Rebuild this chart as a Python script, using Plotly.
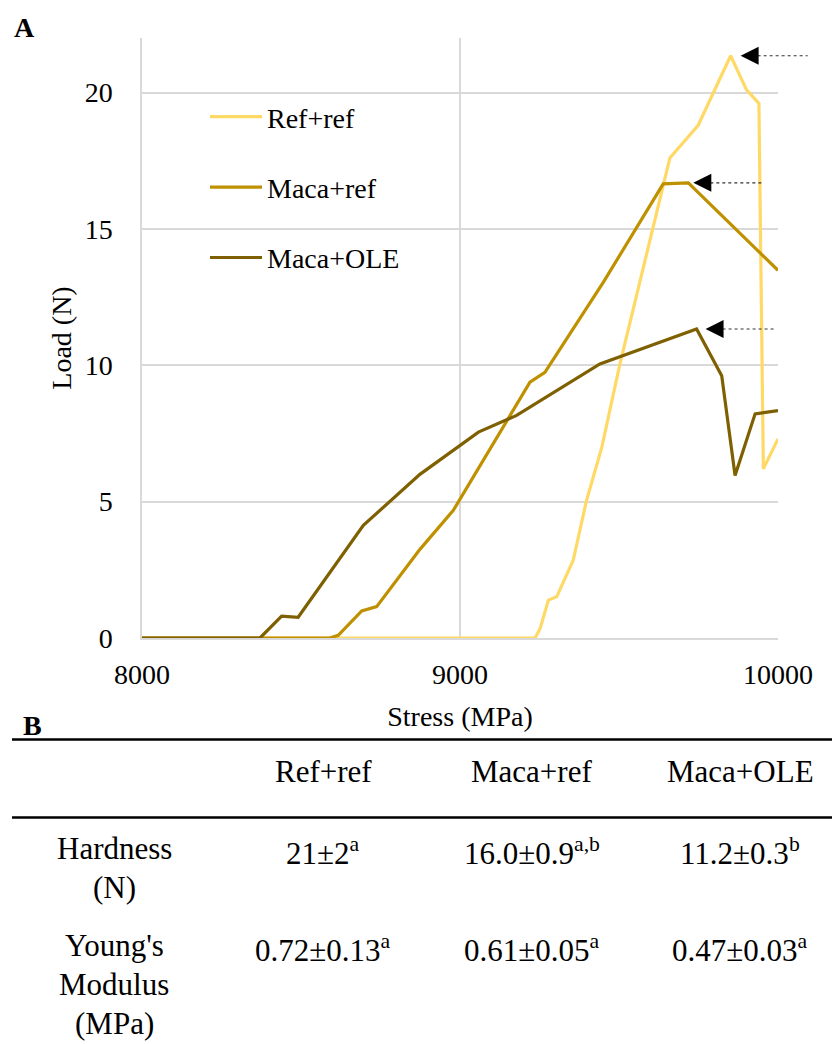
import plotly.graph_objects as go

# ---------------- data ----------------
series_names = ["Ref+ref", "Maca+ref", "Maca+OLE"]

ref_ref_stress = [8000, 9236, 9252, 9278, 9304, 9356, 9398, 9446, 9503, 9605, 9660, 9749, 9851, 9901, 9940, 9954, 10000]
ref_ref_load = [0, 0, 0.35, 1.39, 1.51, 2.85, 5.05, 7.0, 10.05, 15.0, 17.6, 18.8, 21.35, 20.1, 19.6, 6.2, 7.3]

maca_ref_stress = [8000, 8591, 8617, 8691, 8738, 8874, 8979, 9220, 9267, 9450, 9639, 9718, 10000]
maca_ref_load = [0, 0, 0.1, 0.99, 1.15, 3.25, 4.68, 9.38, 9.74, 13.03, 16.65, 16.69, 13.48]

maca_ole_stress = [8000, 8371, 8439, 8491, 8696, 8874, 9058, 9178, 9440, 9744, 9823, 9865, 9928, 10000]
maca_ole_load = [0, 0, 0.8, 0.76, 4.13, 6.0, 7.55, 8.16, 10.05, 11.33, 9.62, 5.96, 8.22, 8.34]

x_ticks = [8000, 9000, 10000]
x_tick_labels = ["8000", "9000", "10000"]
y_ticks = [0, 5, 10, 15, 20]
X_RANGE = [8000, 10000]
Y_RANGE = [0, 22]

table_columns = ["Ref+ref", "Maca+ref", "Maca+OLE"]
table_row_labels = [["Hardness", "(N)"], ["Young's", "Modulus", "(MPa)"]]
hardness_values = ["21±2<sup>a</sup>", "16.0±0.9<sup>a,b</sup>", "11.2±0.3<sup>b</sup>"]
youngs_values = ["0.72±0.13<sup>a</sup>", "0.61±0.05<sup>a</sup>", "0.47±0.03<sup>a</sup>"]

# ---------------- styles ----------------
colors = ["#FFD966", "#BF9000", "#7F6000"]
FONT = "Liberation Serif, Times New Roman, serif"
OFF = 8  # page body margin
W, H = 840 - OFF, 1044 - OFF
ML, MR, MT, MB = 142 - OFF, 62, 38 - OFF, 406
PW, PH = W - ML - MR, H - MT - MB
arrow_standoff = [10, 5, 9]
arrow_tail_px = [77, 74, 78]
HEAD_LEN = 17


def px2paper_x(px):
    return (px - OFF - ML) / PW


def px2paper_y(py):
    return (H - MB - (py - OFF)) / PH


fig = go.Figure()
all_series = [(ref_ref_stress, ref_ref_load), (maca_ref_stress, maca_ref_load), (maca_ole_stress, maca_ole_load)]
for i, (xs, ys) in enumerate(all_series):
    fig.add_trace(go.Scatter(
        x=xs, y=ys, mode="lines", name=series_names[i],
        legendgroup=series_names[i],
        line=dict(color=colors[i], width=3.2),
    ))

# peak arrows
for i, (xs, ys) in enumerate(all_series):
    ymax = max(ys)
    xpk = xs[ys.index(ymax)]
    fig.add_annotation(
        x=xpk, y=ymax, xref="x", yref="y", text="", showarrow=True,
        arrowhead=2, arrowsize=3.6, arrowwidth=1, arrowcolor="black",
        ax=arrow_standoff[i] + HEAD_LEN + 1, ay=0, standoff=arrow_standoff[i],
    )
    frac = (xpk - X_RANGE[0]) / (X_RANGE[1] - X_RANGE[0])
    fig.add_shape(
        type="line", xref="paper", yref="y", xsizemode="pixel", xanchor=frac,
        x0=arrow_standoff[i] + HEAD_LEN, x1=arrow_tail_px[i], y0=ymax, y1=ymax,
        line=dict(color="#333333", width=1.2, dash="dot"),
    )

axis_common = dict(
    showgrid=True, gridcolor="#D9D9D9", gridwidth=1.5, zeroline=False,
    showline=True, linecolor="#D9D9D9", linewidth=1.5, ticks="",
    tickfont=dict(family=FONT, size=28, color="black"),
)
fig.update_xaxes(range=X_RANGE, tickvals=x_ticks, ticktext=x_tick_labels, ticklabelstandoff=11,
                 title=dict(text="Stress (MPa)", font=dict(family=FONT, size=28, color="black"), standoff=17),
                 **axis_common)
fig.update_yaxes(range=Y_RANGE, tickvals=y_ticks, ticklabelstandoff=22,
                 title=dict(text="Load (N)", font=dict(family=FONT, size=28, color="black"), standoff=5),
                 **axis_common)

# panel labels
fig.add_annotation(x=px2paper_x(24), y=px2paper_y(27), xref="paper", yref="paper", text="<b>A</b>",
                   xanchor="center", yanchor="middle",
                   showarrow=False, font=dict(family=FONT, size=28, color="black"))
fig.add_annotation(x=px2paper_x(32), y=px2paper_y(725), xref="paper", yref="paper", text="<b>B</b>",
                   xanchor="center", yanchor="middle",
                   showarrow=False, font=dict(family=FONT, size=28, color="black"))

# table lines
for py in [739.5, 817.5]:
    fig.add_shape(type="line", xref="paper", yref="paper", x0=px2paper_x(12), x1=px2paper_x(840),
                  y0=px2paper_y(py), y1=px2paper_y(py), line=dict(color="black", width=2.5))

TF = dict(family=FONT, size=31, color="black")
col_x = [323, 531.5, 740]
label_x = 114
for j, c in enumerate(table_columns):
    fig.add_annotation(x=px2paper_x(col_x[j]), y=px2paper_y(771.5), xref="paper", yref="paper",
                       text=c, showarrow=False, font=TF, xanchor="center", yanchor="middle")
row_y = [848, 945]
line_gap = 39
for r, labels in enumerate(table_row_labels):
    for k, t in enumerate(labels):
        fig.add_annotation(x=px2paper_x(label_x), y=px2paper_y(row_y[r] + k * line_gap), xref="paper", yref="paper",
                           text=t, showarrow=False, font=TF, xanchor="center", yanchor="middle")
for r, vals in enumerate([hardness_values, youngs_values]):
    for j, v in enumerate(vals):
        fig.add_annotation(x=px2paper_x(col_x[j]), y=px2paper_y(row_y[r]), xref="paper", yref="paper",
                           text=v, showarrow=False, font=TF, xanchor="center", yanchor="middle", yshift=-3)

fig.update_layout(
    width=W, height=H, margin=dict(l=ML, r=MR, t=MT, b=MB),
    plot_bgcolor="white", paper_bgcolor="white",
    font=dict(family=FONT, size=28, color="black"),
    showlegend=True,
    legend=dict(x=px2paper_x(205), y=px2paper_y(92), xanchor="left", yanchor="top",
                bgcolor="rgba(0,0,0,0)", font=dict(family=FONT, size=28, color="black"),
                tracegroupgap=31, itemwidth=52),
)

fig.write_html("out.html")
